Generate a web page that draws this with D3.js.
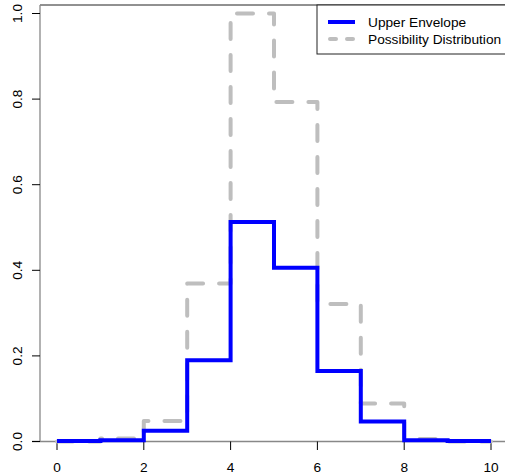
<!DOCTYPE html>
<html>
<head>
<meta charset="utf-8">
<script src="https://cdnjs.cloudflare.com/ajax/libs/d3/7.8.5/d3.min.js"></script>
<style>
  body { margin: 0; background: #fff; }
  text { font-family: "Liberation Sans", Arial, sans-serif; }
</style>
</head>
<body>
<script>
// step values on [x, x+1)
var xs = [0, 1, 2, 3, 4, 5, 6, 7, 8, 9, 10];
var upper = [0.001, 0.003, 0.025, 0.19, 0.513, 0.406, 0.165, 0.047, 0.003, 0.001, 0.001];
var poss = [0.0, 0.007, 0.048, 0.369, 1.0, 0.793, 0.321, 0.089, 0.006, 0.0, 0.0];
var xTicks = [0, 2, 4, 6, 8, 10];
var yTicks = [0, 0.2, 0.4, 0.6, 0.8, 1.0];
var legendLabels = ["Upper Envelope", "Possibility Distribution"];

var width = 505, height = 476;
var svg = d3.select("body").append("svg")
    .attr("width", width).attr("height", height);

var x = d3.scaleLinear().domain([0, 10]).range([57, 491]);
var y = d3.scaleLinear().domain([0, 1]).range([441.5, 13.5]);

// frame pieces
svg.append("line").attr("x1", 40).attr("x2", width).attr("y1", 5).attr("y2", 5)
    .attr("stroke", "#222").attr("stroke-width", 1);
svg.append("line").attr("x1", 40).attr("x2", 40).attr("y1", 5).attr("y2", 441.5)
    .attr("stroke", "#888").attr("stroke-width", 1.3);
svg.append("line").attr("x1", 32).attr("x2", width).attr("y1", 441.5).attr("y2", 441.5)
    .attr("stroke", "#888").attr("stroke-width", 1.3);

// x axis ticks
svg.selectAll(".xt").data(xTicks).enter().append("line")
    .attr("x1", d => x(d)).attr("x2", d => x(d))
    .attr("y1", 441.5).attr("y2", 450)
    .attr("stroke", "#000").attr("stroke-width", 1);
svg.selectAll(".xl").data(xTicks).enter().append("text")
    .attr("x", d => x(d)).attr("y", 471.5)
    .attr("text-anchor", "middle").attr("font-size", 13.7)
    .text(d => d);

// y axis ticks
svg.selectAll(".yt").data(yTicks).enter().append("line")
    .attr("x1", 32).attr("x2", 40)
    .attr("y1", d => y(d)).attr("y2", d => y(d))
    .attr("stroke", "#000").attr("stroke-width", 1);
svg.selectAll(".yl").data(yTicks).enter().append("text")
    .attr("transform", d => `translate(21.5,${y(d)}) rotate(-90)`)
    .attr("text-anchor", "middle").attr("font-size", 13.7)
    .text(d => d3.format(".1f")(d));

var line = d3.line()
    .x((d, i) => x(xs[i]))
    .y(d => y(d))
    .curve(d3.curveStepAfter);

svg.append("path").datum(poss)
    .attr("d", line)
    .attr("fill", "none").attr("stroke", "#BEBEBE")
    .attr("stroke-width", 4).attr("stroke-dasharray", "16,16")
    .attr("stroke-linecap", "round").attr("stroke-linejoin", "round");

svg.append("path").datum(upper)
    .attr("d", line)
    .attr("fill", "none").attr("stroke", "#0000FF")
    .attr("stroke-width", 4).attr("stroke-linejoin", "miter");

// legend
var lg = svg.append("g");
lg.append("rect").attr("x", 317).attr("y", 5).attr("width", 200).attr("height", 49)
    .attr("fill", "#fff").attr("stroke", "#222").attr("stroke-width", 1);
lg.append("line").attr("x1", 328).attr("x2", 355).attr("y1", 22).attr("y2", 22)
    .attr("stroke", "#0000FF").attr("stroke-width", 4);
lg.append("line").attr("x1", 330).attr("x2", 355).attr("y1", 39).attr("y2", 39)
    .attr("stroke", "#BEBEBE").attr("stroke-width", 4)
    .attr("stroke-dasharray", "6,11").attr("stroke-linecap", "round");
lg.selectAll(".lt").data(legendLabels).enter().append("text")
    .attr("x", 368).attr("y", (d, i) => 27 + i * 17)
    .attr("font-size", 13.7).text(d => d);
</script>
</body>
</html>
